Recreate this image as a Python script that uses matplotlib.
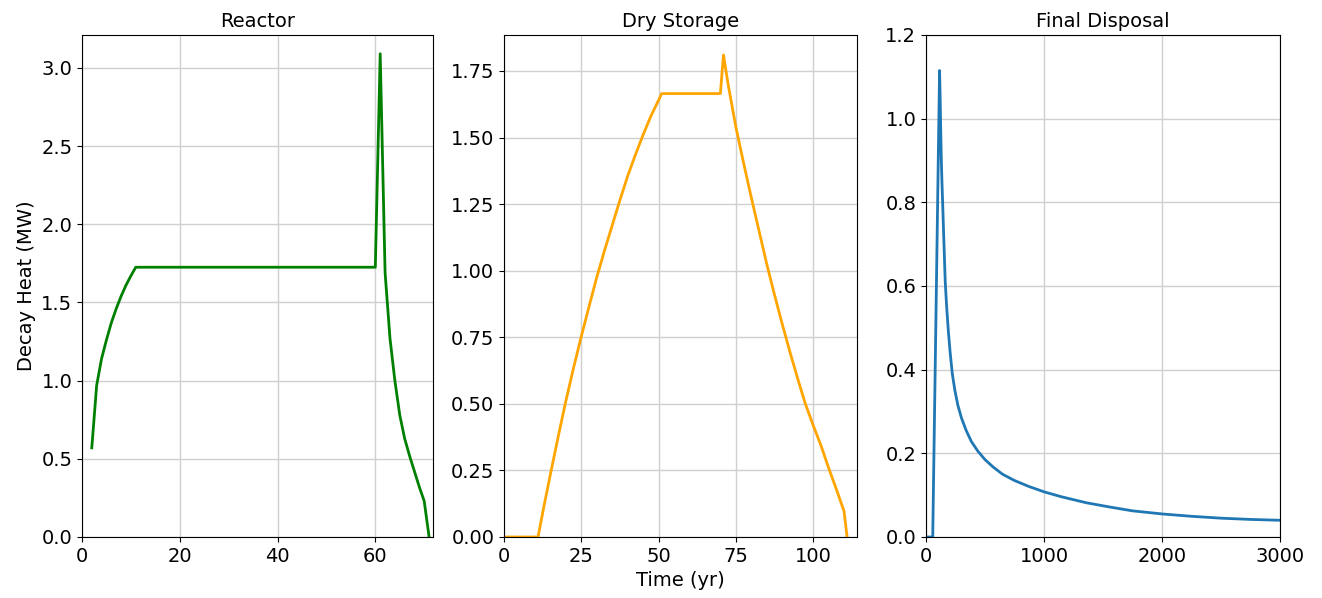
import numpy as np
import matplotlib
matplotlib.use("Agg")
import matplotlib.pyplot as plt

# reactor pool decay heat (MW)
reactor_yr = [2, 3, 4, 5, 6, 7, 8, 9, 10, 11, 60, 61, 62, 63, 64, 65,
              66, 67, 68, 69, 70, 71]
reactor_mw = [0.57, 0.97, 1.14, 1.26, 1.37, 1.46, 1.54, 1.61, 1.67, 1.725,
              1.725, 3.09, 1.69, 1.27, 1.00, 0.78, 0.63, 0.52, 0.42, 0.32,
              0.23, 0.0]

# dry storage
dry_yr = [0, 11, 13, 15, 17.5, 20, 22.5, 25, 27.5, 30, 32.5, 35, 37.5,
          40, 42.5, 45, 47.5, 50, 51, 70, 71, 72.5, 75, 77.5, 80, 82.5, 85,
          87.5, 90, 92.5, 95, 97.5, 100, 102.5, 105, 107.5, 110, 111]
dry_mw = [0.0, 0.0, 0.12, 0.235, 0.375, 0.51, 0.635, 0.753, 0.865, 0.975,
          1.075, 1.17, 1.265, 1.355, 1.435, 1.51, 1.58, 1.64, 1.665,
          1.665, 1.81, 1.70, 1.54, 1.405, 1.275, 1.15, 1.025, 0.91, 0.80,
          0.695, 0.595, 0.50, 0.42, 0.345, 0.26, 0.18, 0.097, 0.0]

# final disposal
final_yr = [0, 57, 115, 120, 125, 130, 135, 141, 150, 163, 175, 190, 205,
            223, 245, 270, 300, 340, 385, 440, 500, 570, 649, 750, 870, 1000,
            1150, 1356, 1550, 1750, 2005, 2250, 2500, 2750, 3000]
final_mw = [0.0, 0.0, 1.115, 1.05, 0.97, 0.90, 0.85, 0.80, 0.72, 0.61,
            0.55, 0.49, 0.44, 0.39, 0.35, 0.315, 0.285, 0.255, 0.228, 0.205,
            0.185, 0.167, 0.15, 0.135, 0.121, 0.108, 0.096, 0.082, 0.072,
            0.0625, 0.055, 0.0495, 0.045, 0.042, 0.040]

plt.rcParams['font.size'] = 14

W, H = 1322, 598
fig = plt.figure(figsize=(W / 100, H / 100), dpi=100)

def box(x0, x1, y0=35, y1=537):
    return [x0 / W, 1 - y1 / H, (x1 - x0) / W, (y1 - y0) / H]

ax1 = fig.add_axes(box(82, 433))
ax2 = fig.add_axes(box(504, 857))
ax3 = fig.add_axes(box(926, 1280))

ax1.plot(reactor_yr, reactor_mw, color='green', lw=2)
ax1.set_xlim(0, 71.8)
ax1.set_ylim(0, 3.21)
ax1.set_yticks(np.arange(0, 3.01, 0.5))
ax1.set_xticks([0, 20, 40, 60])
ax1.set_title("Reactor", fontsize=14)
ax1.set_ylabel("Decay Heat (MW)")

ax2.plot(dry_yr, dry_mw, color='orange', lw=2)
ax2.set_xlim(0, 114.2)
ax2.set_ylim(0, 1.885)
ax2.set_yticks(np.arange(0, 1.76, 0.25))
ax2.set_xticks([0, 25, 50, 75, 100])
ax2.set_title("Dry Storage", fontsize=14)
ax2.set_xlabel("Time (yr)")

ax3.plot(final_yr, final_mw, color='tab:blue', lw=2)
ax3.set_xlim(0, 3000)
ax3.set_ylim(0, 1.2)
ax3.set_yticks(np.arange(0, 1.21, 0.2))
ax3.set_xticks([0, 1000, 2000, 3000])
ax3.set_title("Final Disposal", fontsize=14)

for ax in (ax1, ax2, ax3):
    ax.grid(True, color='#d0d0d0', lw=1)
    ax.set_axisbelow(True)

fig.savefig("out.png", dpi=100)
